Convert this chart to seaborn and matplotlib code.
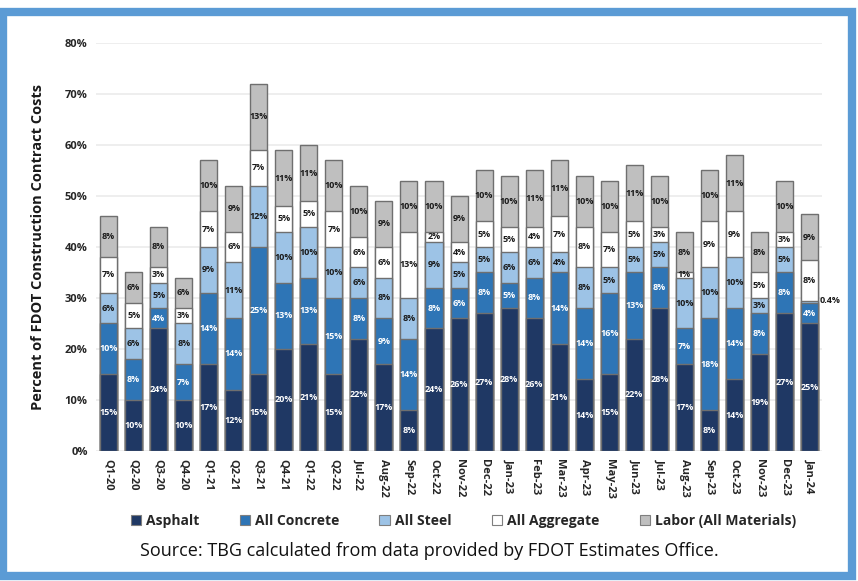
import numpy as np
import pandas as pd
import seaborn as sns
import matplotlib.pyplot as plt
from matplotlib.patches import Rectangle, Patch

periods = ["Q1-20", "Q2-20", "Q3-20", "Q4-20", "Q1-21", "Q2-21", "Q3-21", "Q4-21",
           "Q1-22", "Q2-22", "Jul-22", "Aug-22", "Sep-22", "Oct-22", "Nov-22",
           "Dec-22", "Jan-23", "Feb-23", "Mar-23", "Apr-23", "May-23", "Jun-23",
           "Jul-23", "Aug-23", "Sep-23", "Oct-23", "Nov-23", "Dec-23", "Jan-24"]

asphalt = [15, 10, 24, 10, 17, 12, 15, 20, 21, 15, 22, 17, 8, 24, 26,
           27, 28, 26, 21, 14, 15, 22, 28, 17, 8, 14, 19, 27, 25]
concrete = [10, 8, 4, 7, 14, 14, 25, 13, 13, 15, 8, 9, 14, 8, 6,
            8, 5, 8, 14, 14, 16, 13, 8, 7, 18, 14, 8, 8, 4]
steel = [6, 6, 5, 8, 9, 11, 12, 10, 10, 10, 6, 8, 8, 9, 5,
         5, 6, 6, 4, 8, 5, 5, 5, 10, 10, 10, 3, 5, 0.4]
aggregate = [7, 5, 3, 3, 7, 6, 7, 5, 5, 7, 6, 6, 13, 2, 4,
             5, 5, 4, 7, 8, 7, 5, 3, 1, 9, 9, 5, 3, 8]
labor = [8, 6, 8, 6, 10, 9, 13, 11, 11, 10, 10, 9, 10, 10, 9,
         10, 10, 11, 11, 10, 10, 11, 10, 8, 10, 11, 8, 10, 9]

series_names = ["Asphalt", "All Concrete", "All Steel", "All Aggregate", "Labor (All Materials)"]
series_values = [asphalt, concrete, steel, aggregate, labor]
series_colors = ["#1F3864", "#2E75B6", "#9DC3E6", "#FFFFFF", "#BFBFBF"]
label_colors = ["white", "white", "#1a1a1a", "#1a1a1a", "#1a1a1a"]

sns.set_theme(style="white")
plt.rcParams["font.family"] = ["Open Sans", "DejaVu Sans"]

fig = plt.figure(figsize=(8.58, 5.81), dpi=100)
ax = fig.add_axes([0.112, 0.224, 0.846, 0.702])

vals = np.array(series_values, dtype=float)
tops = np.cumsum(vals, axis=0)
bottoms = tops - vals

# Stack by overlaying cumulative totals, tallest layer first
for i in range(len(series_names) - 1, -1, -1):
    df = pd.DataFrame({"period": periods, "value": tops[i]})
    sns.barplot(data=df, x="period", y="value", color=series_colors[i],
                saturation=1, width=0.68, edgecolor="#6f6f6f", linewidth=1.0,
                ax=ax, zorder=3)

# Segment value labels
for i in range(len(series_names)):
    for j in range(len(periods)):
        v = vals[i, j]
        txt = f"{v:g}%"
        if v < 1:
            ax.text(j + 0.42, tops[i, j], txt, ha="left", va="center",
                    fontsize=6.5, fontweight="bold", color="#1a1a1a", zorder=5)
        else:
            ax.text(j, (bottoms[i, j] + tops[i, j]) / 2, txt, ha="center", va="center",
                    fontsize=6.5, fontweight="bold", color=label_colors[i], zorder=5)

ax.set_xlim(-0.5, len(periods) - 0.5)
ax.set_ylim(0, 80)
ax.set_yticks(range(0, 81, 10))
ax.set_yticklabels([f"{t}%" for t in range(0, 81, 10)], fontsize=8, fontweight="bold", color="#262626")
ax.set_xticks(range(len(periods)))
ax.set_xticklabels(periods, rotation=-90, fontsize=8, fontweight="bold", color="#262626")
ax.tick_params(axis="both", length=0, pad=6)
ax.set_xlabel("")
ax.set_ylabel("Percent of FDOT Construction Contract Costs", fontsize=10.5,
              fontweight="bold", color="#1a1a1a", labelpad=14)
ax.yaxis.grid(True, color="#ebebeb", linewidth=1.2, zorder=0)
ax.set_axisbelow(True)
for s in ax.spines.values():
    s.set_visible(False)

handles = [Patch(facecolor=c, edgecolor="#7f7f7f", linewidth=0.8) for c in series_colors]
fig.legend(handles, series_names, loc="center", bbox_to_anchor=(0.54, 0.103), ncol=5,
           frameon=False, handlelength=0.75, handleheight=0.75,
           columnspacing=2.9, handletextpad=0.35,
           prop={"weight": "bold", "size": 10})

fig.text(0.50, 0.052, "Source: TBG calculated from data provided by FDOT Estimates Office.",
         ha="center", va="center", fontsize=13, color="#111111")

# Blue frame around the figure
fig.patches.append(Rectangle((0.0035, 0.008), 0.9895, 0.972, transform=fig.transFigure,
                             fill=False, edgecolor="#5B9BD5", linewidth=6, zorder=10))

fig.savefig("out.png", dpi=100)
